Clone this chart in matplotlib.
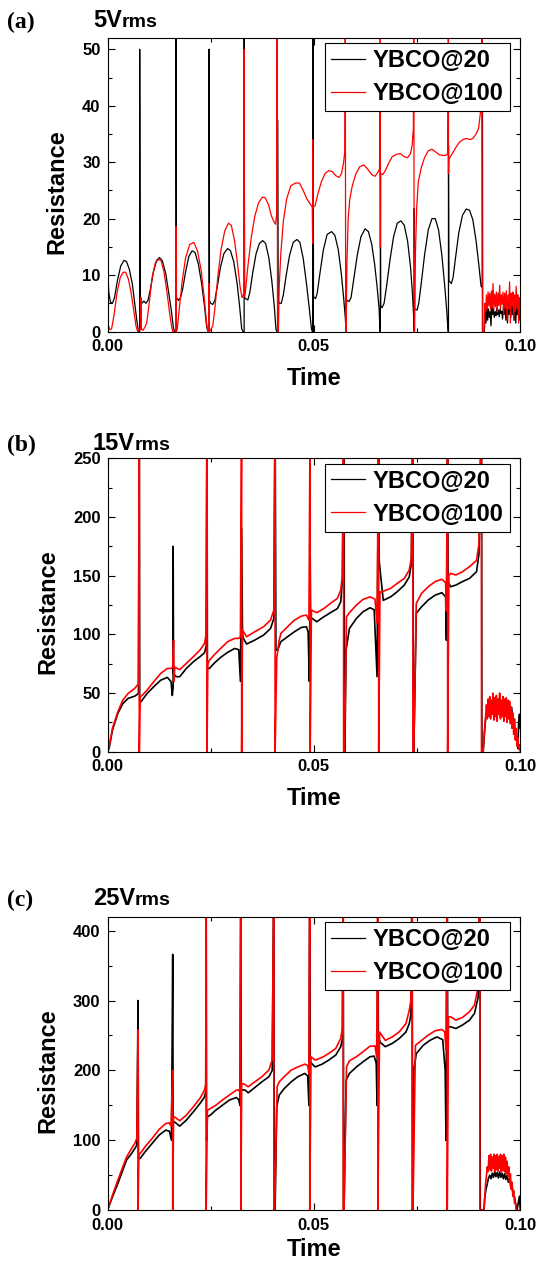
import matplotlib
matplotlib.use("Agg")
import matplotlib.pyplot as plt
from matplotlib.ticker import MultipleLocator, FormatStrFormatter

# ---------------- data (time [s], resistance) ----------------
# Panel (a) 5 Vrms
A_20 = [
    (0.0000, 12.0), (0.0003, 7.0), (0.0007, 5.2), (0.0012, 5.0), (0.0017, 6.0), (0.0024, 9.0), (0.0032, 11.6),
    (0.0040, 12.6), (0.0046, 12.4), (0.0053, 11.0), (0.0060, 8.5), (0.0066, 5.0), (0.0071, 2.0), (0.0075, 0.0),
    (0.0078, 0.0), (0.0078, 50.0), (0.0079, 5.5),
    (0.0083, 5.0), (0.0088, 5.4), (0.0093, 5.0), (0.0098, 5.5), (0.0104, 7.5), (0.0111, 10.5), (0.0119, 12.6),
    (0.0126, 13.1), (0.0133, 12.5), (0.0141, 10.3), (0.0148, 7.0), (0.0155, 3.5), (0.0160, 0.5), (0.0163, 0.0),
    (0.0166, 0.0), (0.0166, 60.0), (0.0167, 6.0),
    (0.0172, 5.5), (0.0177, 6.0), (0.0182, 7.5), (0.0189, 10.5), (0.0197, 13.3), (0.0205, 14.3), (0.0212, 14.0),
    (0.0220, 12.0), (0.0228, 8.5), (0.0235, 4.5), (0.0240, 1.0), (0.0243, 0.0), (0.0246, 0.0), (0.0246, 50.0), (0.0247, 5.5),
    (0.0250, 5.0), (0.0255, 4.8), (0.0260, 5.5), (0.0266, 8.0), (0.0274, 11.5), (0.0282, 13.8), (0.0291, 14.7),
    (0.0298, 14.3), (0.0306, 12.3), (0.0314, 8.5), (0.0320, 4.5), (0.0325, 0.5), (0.0328, 0.0), (0.0331, 0.0),
    (0.0331, 60.0), (0.0332, 6.0),
    (0.0335, 5.8), (0.0340, 5.6), (0.0345, 7.0), (0.0352, 10.5), (0.0360, 13.8), (0.0368, 15.6), (0.0376, 16.1),
    (0.0383, 15.6), (0.0391, 13.0), (0.0398, 9.0), (0.0404, 4.5), (0.0408, 0.5), (0.0410, 0.0), (0.0412, 0.0),
    (0.0412, 37.5), (0.0413, 5.5),
    (0.0416, 5.0), (0.0421, 5.0), (0.0426, 6.5), (0.0433, 10.0), (0.0441, 13.5), (0.0450, 15.8), (0.0459, 16.3),
    (0.0466, 15.8), (0.0474, 13.0), (0.0482, 8.5), (0.0489, 4.0), (0.0494, 0.5), (0.0496, 0.0), (0.0497, 0.0),
    (0.0497, 60.0), (0.0498, 0.0), (0.0498, 60.0), (0.0499, 6.2),
    (0.0504, 5.8), (0.0508, 6.8), (0.0515, 10.5), (0.0523, 14.5), (0.0532, 17.2), (0.0543, 17.7), (0.0551, 17.0),
    (0.0559, 14.5), (0.0566, 10.5), (0.0572, 6.0), (0.0576, 2.5), (0.0578, 0.0), (0.0579, 5.6),
    (0.0585, 5.3), (0.0590, 6.0), (0.0597, 9.5), (0.0605, 13.5), (0.0614, 16.8), (0.0624, 18.2), (0.0632, 17.7),
    (0.0640, 15.5), (0.0647, 12.0), (0.0653, 8.0), (0.0658, 4.0), (0.0660, 0.0), (0.0661, 0.0), (0.0661, 30.0), (0.0662, 4.5),
    (0.0665, 4.2), (0.0670, 5.0), (0.0676, 8.0), (0.0684, 12.5), (0.0693, 16.8), (0.0702, 19.2), (0.0711, 19.6),
    (0.0719, 18.8), (0.0727, 16.0), (0.0734, 11.5), (0.0739, 6.5), (0.0742, 2.0), (0.0743, 0.0), (0.0743, 21.8), (0.0744, 4.0),
    (0.0750, 3.8), (0.0754, 5.0), (0.0760, 8.5), (0.0768, 13.5), (0.0777, 18.0), (0.0786, 20.0), (0.0794, 20.0),
    (0.0802, 18.0), (0.0810, 13.5), (0.0817, 8.0), (0.0822, 3.5), (0.0825, 0.0), (0.0826, 0.0), (0.0826, 33.0), (0.0827, 9.0),
    (0.0833, 8.5), (0.0837, 9.5), (0.0843, 13.0), (0.0851, 17.5), (0.0860, 20.6), (0.0869, 21.7), (0.0877, 21.5),
    (0.0885, 19.8), (0.0893, 16.0), (0.0900, 11.5), (0.0905, 8.0), (0.0908, 7.8), (0.0908, 60.0), (0.0909, 0.0),
    (0.0913, 0.0), (0.0915, 4.0), (0.0917, 1.5), (0.0919, 4.5), (0.0921, 2.0), (0.0923, 4.0), (0.0925, 2.5),
    (0.0927, 3.5), (0.0929, 1.0), (0.0931, 4.5), (0.0933, 3.0), (0.0935, 4.0), (0.0937, 2.5), (0.0939, 3.5),
    (0.0941, 2.8), (0.0943, 4.2), (0.0945, 3.0), (0.0947, 3.8), (0.0949, 2.6), (0.0951, 4.0), (0.0953, 3.2),
    (0.0955, 3.6), (0.0957, 2.2), (0.0959, 4.4), (0.0961, 3.0), (0.0963, 5.0), (0.0965, 2.0), (0.0967, 4.0),
    (0.0969, 1.5), (0.0971, 5.5), (0.0973, 3.0), (0.0975, 4.5), (0.0977, 2.5), (0.0979, 6.0), (0.0981, 3.0),
    (0.0983, 5.0), (0.0985, 2.0), (0.0987, 4.5), (0.0989, 1.5), (0.0991, 5.0), (0.0993, 3.0), (0.0995, 4.0),
    (0.0997, 2.0), (0.0999, 3.5),
]
A_100 = [
    (0.0000, 0.0), (0.0001, 31.0), (0.0002, 1.0), (0.0006, 0.3), (0.0010, 0.5), (0.0016, 3.0), (0.0023, 6.8),
    (0.0031, 9.6), (0.0038, 10.5), (0.0044, 10.5), (0.0051, 9.2), (0.0058, 6.5), (0.0064, 3.5), (0.0069, 1.0),
    (0.0073, 0.0), (0.0078, 0.5), (0.0081, 0.3), (0.0081, 6.0), (0.0082, 0.5), (0.0086, 0.2), (0.0091, 0.8),
    (0.0095, 1.5), (0.0101, 5.0), (0.0108, 9.5), (0.0116, 12.2), (0.0124, 12.8), (0.0130, 12.5), (0.0137, 10.5),
    (0.0144, 7.0), (0.0150, 3.5), (0.0155, 1.0), (0.0158, 0.0), (0.0166, 0.0), (0.0166, 18.6), (0.0167, 0.0), (0.0169, 0.5),
    (0.0174, 4.0), (0.0181, 9.0), (0.0189, 13.0), (0.0199, 15.4), (0.0209, 15.8), (0.0218, 14.3), (0.0227, 10.8),
    (0.0235, 5.5), (0.0240, 1.5), (0.0243, 0.0), (0.0246, 0.0), (0.0246, 8.5), (0.0247, 0.0),
    (0.0250, 0.3), (0.0255, 1.0), (0.0260, 4.0), (0.0267, 9.5), (0.0275, 14.5), (0.0284, 17.8), (0.0293, 19.2),
    (0.0300, 18.8), (0.0308, 16.0), (0.0315, 12.0), (0.0321, 8.0), (0.0326, 6.0), (0.0329, 6.5), (0.0331, 6.3),
    (0.0331, 50.0), (0.0332, 6.3),
    (0.0334, 7.0), (0.0340, 11.5), (0.0348, 16.5), (0.0357, 20.5), (0.0366, 22.8), (0.0375, 23.8), (0.0382, 23.7),
    (0.0390, 22.5), (0.0397, 20.5), (0.0403, 19.5), (0.0407, 19.0), (0.0410, 21.0), (0.0411, 60.0), (0.0412, 0.0),
    (0.0414, 0.0), (0.0416, 8.0), (0.0420, 14.0), (0.0426, 19.5), (0.0434, 23.5), (0.0444, 25.8), (0.0455, 26.3),
    (0.0465, 26.3), (0.0474, 25.0), (0.0483, 23.5), (0.0492, 22.5), (0.0496, 22.0), (0.0497, 15.6), (0.0497, 34.0), (0.0498, 22.0),
    (0.0503, 22.3), (0.0510, 24.5), (0.0518, 26.5), (0.0527, 28.0), (0.0536, 28.5), (0.0545, 28.3), (0.0553, 27.6),
    (0.0561, 27.3), (0.0567, 28.0), (0.0572, 30.0), (0.0575, 32.0), (0.0576, 60.0), (0.0577, 0.0),
    (0.0578, 0.0), (0.0580, 12.0), (0.0583, 20.0), (0.0587, 23.5), (0.0593, 25.8), (0.0601, 27.8), (0.0611, 29.2),
    (0.0621, 29.5), (0.0630, 28.8), (0.0640, 27.8), (0.0648, 27.5), (0.0655, 28.2), (0.0659, 28.8), (0.0661, 60.0),
    (0.0661, 15.0), (0.0662, 28.0),
    (0.0667, 27.8), (0.0673, 28.5), (0.0681, 29.8), (0.0690, 31.0), (0.0700, 31.4), (0.0710, 31.5), (0.0718, 31.0),
    (0.0727, 30.8), (0.0734, 31.5), (0.0738, 33.0), (0.0741, 36.0), (0.0742, 60.0), (0.0743, 0.0),
    (0.0744, 0.0), (0.0746, 14.0), (0.0749, 22.0), (0.0753, 26.5), (0.0760, 29.0), (0.0768, 30.8), (0.0777, 32.0),
    (0.0786, 32.3), (0.0795, 31.8), (0.0804, 31.3), (0.0812, 31.2), (0.0819, 31.2), (0.0824, 31.5), (0.0826, 60.0),
    (0.0826, 28.0), (0.0827, 30.5),
    (0.0835, 31.5), (0.0843, 32.5), (0.0852, 33.5), (0.0861, 34.0), (0.0870, 34.2), (0.0878, 34.0), (0.0885, 34.2),
    (0.0893, 35.0), (0.0899, 36.0), (0.0903, 38.5), (0.0906, 42.0), (0.0907, 60.0), (0.0908, 0.0),
    (0.0912, 0.0), (0.0914, 5.0), (0.0916, 3.5), (0.0918, 6.5), (0.0920, 4.0), (0.0922, 7.0), (0.0924, 4.5),
    (0.0926, 6.8), (0.0928, 3.8), (0.0930, 7.2), (0.0932, 4.2), (0.0934, 8.5), (0.0936, 4.0), (0.0938, 6.6),
    (0.0940, 4.4), (0.0942, 7.0), (0.0944, 3.5), (0.0946, 6.8), (0.0948, 4.6), (0.0950, 8.2), (0.0952, 4.0),
    (0.0954, 6.5), (0.0956, 4.8), (0.0958, 7.0), (0.0960, 3.0), (0.0962, 6.8), (0.0964, 4.2), (0.0966, 7.2),
    (0.0968, 2.0), (0.0970, 6.5), (0.0972, 4.0), (0.0974, 8.8), (0.0976, 1.5), (0.0978, 6.8), (0.0980, 4.5),
    (0.0982, 7.0), (0.0984, 2.0), (0.0986, 6.5), (0.0988, 3.5), (0.0990, 8.0), (0.0992, 4.0), (0.0994, 6.5),
    (0.0996, 1.5), (0.0998, 6.0), (0.1000, 3.0),
]

# Panel (b) 15 Vrms
B_20 = [
    (0.0000, 0.0), (0.0001, 12.0), (0.0002, 2.0), (0.0004, 3.0), (0.0012, 18.5), (0.0025, 32.7), (0.0037, 41.0),
    (0.0050, 45.5), (0.0066, 47.4), (0.0075, 49.7), (0.0077, 300.0), (0.0078, 42.6),
    (0.0081, 42.6), (0.0096, 49.7), (0.0112, 55.4), (0.0129, 61.0), (0.0145, 63.4), (0.0154, 59.7), (0.0157, 48.0),
    (0.0159, 55.0), (0.0159, 175.0), (0.0160, 66.8),
    (0.0166, 64.0), (0.0175, 64.0), (0.0191, 71.0), (0.0208, 76.7), (0.0224, 81.0), (0.0235, 84.4), (0.0239, 90.0),
    (0.0241, 300.0), (0.0242, 71.0),
    (0.0247, 71.0), (0.0258, 75.3), (0.0274, 80.4), (0.0291, 84.7), (0.0308, 88.0), (0.0318, 87.0), (0.0322, 60.0),
    (0.0325, 190.0), (0.0327, 100.0),
    (0.0330, 96.0), (0.0337, 91.8), (0.0357, 95.2), (0.0378, 99.4), (0.0395, 105.0), (0.0403, 113.6), (0.0406, 300.0),
    (0.0408, 86.6),
    (0.0412, 86.6), (0.0420, 93.8), (0.0436, 98.0), (0.0453, 102.3), (0.0470, 106.0), (0.0482, 106.5), (0.0486, 102.0),
    (0.0489, 60.0), (0.0491, 166.0), (0.0492, 113.6),
    (0.0496, 113.6), (0.0507, 110.8), (0.0524, 115.0), (0.0540, 118.5), (0.0557, 122.0), (0.0565, 127.8), (0.0569, 146.0),
    (0.0573, 300.0), (0.0574, 0.0),
    (0.0575, 0.0), (0.0578, 86.6), (0.0586, 105.0), (0.0603, 113.6), (0.0619, 119.3), (0.0636, 122.7), (0.0646, 121.0),
    (0.0653, 64.0), (0.0657, 300.0), (0.0658, 163.0),
    (0.0668, 129.0), (0.0686, 132.0), (0.0702, 136.4), (0.0719, 142.0), (0.0731, 149.0), (0.0736, 160.0), (0.0740, 300.0),
    (0.0741, 0.0),
    (0.0742, 0.0), (0.0748, 118.0), (0.0761, 123.6), (0.0777, 129.3), (0.0794, 133.5), (0.0810, 135.5), (0.0819, 132.0),
    (0.0821, 95.0), (0.0824, 300.0), (0.0825, 145.0),
    (0.0831, 140.6), (0.0844, 142.0), (0.0860, 145.0), (0.0877, 147.7), (0.0894, 153.4), (0.0900, 169.0), (0.0906, 300.0),
    (0.0907, 0.0),
    (0.0910, 0.0), (0.0913, 15.0), (0.0916, 28.0), (0.0919, 35.0), (0.0922, 30.0), (0.0925, 40.0), (0.0928, 33.0),
    (0.0931, 42.0), (0.0934, 35.0), (0.0937, 44.0), (0.0940, 32.0), (0.0943, 43.0), (0.0946, 36.0), (0.0949, 45.0),
    (0.0952, 30.0), (0.0955, 42.0), (0.0958, 34.0), (0.0961, 44.0), (0.0964, 31.0), (0.0967, 42.0), (0.0970, 35.0),
    (0.0973, 43.0), (0.0976, 30.0), (0.0979, 38.0), (0.0982, 25.0), (0.0985, 28.0), (0.0988, 15.0), (0.0991, 12.0),
    (0.0994, 3.0), (0.0996, 25.0), (0.0998, 32.0), (0.1000, 20.0),
]
B_100 = [
    (0.0000, 0.0), (0.0001, 150.0), (0.0002, 2.0), (0.0006, 8.0), (0.0012, 20.0), (0.0025, 34.0), (0.0037, 44.0),
    (0.0050, 49.7), (0.0066, 54.0), (0.0075, 58.0), (0.0077, 300.0), (0.0077, 0.0), (0.0079, 47.0),
    (0.0081, 47.0), (0.0096, 52.6), (0.0112, 59.7), (0.0129, 66.8), (0.0145, 71.0), (0.0154, 71.0), (0.0158, 72.0),
    (0.0160, 95.0), (0.0161, 60.0), (0.0163, 72.0),
    (0.0175, 70.0), (0.0191, 75.3), (0.0208, 81.0), (0.0224, 86.6), (0.0235, 92.3), (0.0239, 100.0), (0.0241, 300.0),
    (0.0241, 0.0), (0.0243, 75.0),
    (0.0247, 78.0), (0.0258, 82.4), (0.0274, 88.0), (0.0291, 93.8), (0.0308, 96.6), (0.0318, 96.6), (0.0322, 98.0),
    (0.0325, 300.0), (0.0325, 0.0), (0.0327, 103.7),
    (0.0337, 98.0), (0.0357, 102.3), (0.0378, 106.5), (0.0395, 112.2), (0.0403, 120.7), (0.0406, 300.0), (0.0406, 0.0),
    (0.0410, 80.0),
    (0.0416, 95.0), (0.0420, 100.8), (0.0436, 106.5), (0.0453, 112.2), (0.0470, 115.6), (0.0482, 116.5), (0.0488, 112.0),
    (0.0491, 300.0), (0.0491, 0.0), (0.0494, 120.7),
    (0.0507, 118.5), (0.0524, 122.0), (0.0540, 126.4), (0.0557, 130.7), (0.0565, 137.8), (0.0569, 150.0), (0.0572, 300.0),
    (0.0572, 0.0), (0.0574, 0.0), (0.0579, 115.0),
    (0.0586, 118.5), (0.0603, 125.0), (0.0619, 129.8), (0.0636, 132.0), (0.0648, 130.0), (0.0653, 110.0), (0.0657, 300.0),
    (0.0657, 0.0), (0.0660, 136.0),
    (0.0665, 136.4), (0.0686, 139.2), (0.0702, 143.5), (0.0719, 147.7), (0.0731, 154.8), (0.0736, 165.0), (0.0740, 300.0),
    (0.0740, 0.0), (0.0742, 0.0), (0.0748, 126.4),
    (0.0761, 135.0), (0.0777, 140.6), (0.0794, 145.0), (0.0810, 147.0), (0.0819, 144.0), (0.0821, 120.0), (0.0824, 300.0),
    (0.0824, 0.0), (0.0827, 150.0),
    (0.0831, 152.0), (0.0844, 150.6), (0.0860, 153.4), (0.0877, 157.7), (0.0894, 163.0), (0.0900, 177.5), (0.0906, 300.0),
    (0.0906, 0.0),
    (0.0910, 0.0), (0.0912, 12.0), (0.0914, 22.0), (0.0916, 30.0), (0.0918, 40.0), (0.0920, 28.0), (0.0922, 45.0),
    (0.0924, 30.0), (0.0926, 47.0), (0.0928, 28.0), (0.0930, 44.0), (0.0932, 32.0), (0.0934, 50.0), (0.0936, 27.0),
    (0.0938, 46.0), (0.0940, 30.0), (0.0942, 48.0), (0.0944, 26.0), (0.0946, 45.0), (0.0948, 32.0), (0.0950, 50.0),
    (0.0952, 28.0), (0.0954, 44.0), (0.0956, 30.0), (0.0958, 47.0), (0.0960, 26.0), (0.0962, 45.0), (0.0964, 30.0),
    (0.0966, 46.0), (0.0968, 25.0), (0.0970, 44.0), (0.0972, 28.0), (0.0974, 43.0), (0.0976, 24.0), (0.0978, 38.0),
    (0.0980, 20.0), (0.0982, 33.0), (0.0984, 15.0), (0.0986, 28.0), (0.0988, 10.0), (0.0990, 20.0), (0.0992, 5.0),
    (0.0994, 12.0), (0.0996, 2.0), (0.0998, 6.0), (0.1000, 0.0),
]

# Panel (c) 25 Vrms
C_20 = [
    (0.0000, 0.0), (0.0012, 19.0), (0.0025, 38.0), (0.0037, 57.0), (0.0046, 71.6), (0.0058, 81.0), (0.0066, 88.0),
    (0.0071, 93.0), (0.0074, 300.0), (0.0075, 74.0),
    (0.0079, 74.0), (0.0091, 83.5), (0.0108, 95.5), (0.0125, 107.4), (0.0141, 114.6), (0.0150, 113.0), (0.0155, 100.0),
    (0.0158, 366.0), (0.0159, 126.5),
    (0.0162, 126.5), (0.0175, 120.3), (0.0191, 128.9), (0.0208, 140.8), (0.0224, 152.7), (0.0235, 162.0), (0.0238, 170.0),
    (0.0239, 500.0), (0.0240, 100.0),
    (0.0242, 133.6), (0.0249, 136.0), (0.0262, 143.0), (0.0278, 150.0), (0.0295, 157.5), (0.0312, 161.3), (0.0318, 158.0),
    (0.0321, 150.0), (0.0323, 500.0), (0.0324, 172.0),
    (0.0333, 172.0), (0.0341, 168.0), (0.0357, 175.7), (0.0374, 183.7), (0.0391, 191.0), (0.0399, 200.0), (0.0403, 500.0),
    (0.0404, 0.0),
    (0.0406, 0.0), (0.0410, 148.0), (0.0416, 164.7), (0.0428, 174.0), (0.0445, 183.7), (0.0461, 191.0), (0.0478, 195.7),
    (0.0485, 192.0), (0.0488, 150.0), (0.0490, 500.0), (0.0491, 212.0),
    (0.0503, 205.0), (0.0520, 209.0), (0.0536, 214.8), (0.0553, 222.0), (0.0565, 234.0), (0.0569, 245.0), (0.0571, 500.0),
    (0.0572, 0.0),
    (0.0573, 0.0), (0.0578, 186.0), (0.0586, 195.7), (0.0603, 205.0), (0.0619, 212.4), (0.0636, 219.6), (0.0646, 220.5),
    (0.0651, 210.0), (0.0653, 150.0), (0.0655, 500.0), (0.0656, 248.0),
    (0.0661, 240.0), (0.0673, 234.0), (0.0690, 238.7), (0.0707, 245.8), (0.0723, 255.0), (0.0731, 267.0), (0.0735, 280.0),
    (0.0738, 500.0), (0.0739, 0.0),
    (0.0740, 0.0), (0.0742, 200.0), (0.0748, 224.0), (0.0765, 236.0), (0.0781, 243.0), (0.0798, 248.0), (0.0812, 244.0),
    (0.0818, 200.0), (0.0820, 100.0), (0.0823, 500.0), (0.0824, 262.0),
    (0.0831, 262.5), (0.0844, 260.0), (0.0860, 265.0), (0.0877, 272.0), (0.0889, 281.6), (0.0898, 305.0), (0.0902, 500.0),
    (0.0903, 0.0),
    (0.0912, 0.0), (0.0914, 19.0), (0.0917, 30.0), (0.0920, 38.0), (0.0923, 46.0), (0.0926, 50.0), (0.0929, 45.0),
    (0.0932, 53.0), (0.0935, 47.0), (0.0938, 55.0), (0.0941, 48.0), (0.0944, 54.0), (0.0947, 46.0), (0.0950, 55.0),
    (0.0953, 47.0), (0.0956, 53.0), (0.0959, 45.0), (0.0962, 52.0), (0.0965, 44.0), (0.0968, 50.0), (0.0971, 40.0),
    (0.0974, 45.0), (0.0977, 33.0), (0.0980, 35.0), (0.0983, 20.0), (0.0986, 19.0), (0.0989, 8.0), (0.0992, 0.0),
    (0.0995, 10.0), (0.0998, 20.0), (0.1000, 0.0),
]
C_100 = [
    (0.0000, 0.0), (0.0012, 21.5), (0.0025, 43.0), (0.0037, 62.0), (0.0046, 76.0), (0.0058, 88.0), (0.0066, 95.5),
    (0.0071, 102.6), (0.0074, 258.0), (0.0074, 0.0), (0.0076, 81.0),
    (0.0079, 81.0), (0.0091, 90.7), (0.0108, 102.6), (0.0125, 115.5), (0.0141, 124.0), (0.0150, 125.0), (0.0154, 120.0),
    (0.0158, 200.0), (0.0158, 0.0), (0.0160, 133.6),
    (0.0162, 133.6), (0.0175, 128.0), (0.0191, 136.0), (0.0208, 148.0), (0.0224, 160.0), (0.0235, 172.0), (0.0238, 180.0),
    (0.0239, 500.0), (0.0239, 0.0), (0.0242, 143.0),
    (0.0262, 150.0), (0.0278, 157.5), (0.0295, 164.7), (0.0312, 171.8), (0.0318, 172.0), (0.0321, 168.0), (0.0323, 500.0),
    (0.0323, 0.0), (0.0325, 181.0),
    (0.0330, 181.0), (0.0341, 176.6), (0.0357, 183.7), (0.0374, 191.0), (0.0391, 200.5), (0.0399, 215.0), (0.0403, 500.0),
    (0.0403, 0.0), (0.0405, 0.0), (0.0411, 176.6),
    (0.0416, 183.7), (0.0428, 191.0), (0.0445, 200.5), (0.0461, 205.0), (0.0478, 209.0), (0.0485, 207.0), (0.0488, 195.0),
    (0.0490, 500.0), (0.0490, 0.0), (0.0493, 219.6),
    (0.0503, 214.8), (0.0520, 218.6), (0.0536, 224.3), (0.0553, 231.5), (0.0565, 245.8), (0.0569, 260.0), (0.0571, 500.0),
    (0.0571, 0.0), (0.0573, 0.0), (0.0579, 205.0),
    (0.0586, 213.8), (0.0603, 219.6), (0.0619, 226.7), (0.0636, 234.8), (0.0648, 235.0), (0.0652, 220.0), (0.0655, 500.0),
    (0.0655, 0.0), (0.0659, 255.0),
    (0.0673, 243.0), (0.0690, 248.0), (0.0707, 255.4), (0.0723, 267.0), (0.0731, 286.0), (0.0735, 300.0), (0.0738, 500.0),
    (0.0738, 0.0), (0.0740, 0.0), (0.0746, 236.0),
    (0.0761, 243.0), (0.0777, 250.6), (0.0794, 256.8), (0.0810, 258.7), (0.0817, 255.0), (0.0820, 230.0), (0.0823, 500.0),
    (0.0823, 0.0), (0.0826, 276.8),
    (0.0831, 276.8), (0.0844, 272.0), (0.0860, 275.9), (0.0877, 284.0), (0.0889, 293.5), (0.0898, 320.0), (0.0902, 500.0),
    (0.0902, 0.0),
    (0.0912, 0.0), (0.0914, 20.0), (0.0916, 38.0), (0.0918, 50.0), (0.0920, 62.0), (0.0922, 55.0), (0.0924, 78.0),
    (0.0926, 58.0), (0.0928, 80.0), (0.0930, 56.0), (0.0932, 76.0), (0.0934, 60.0), (0.0936, 80.0), (0.0938, 55.0),
    (0.0940, 78.0), (0.0942, 58.0), (0.0944, 80.0), (0.0946, 56.0), (0.0948, 77.0), (0.0950, 60.0), (0.0952, 80.0),
    (0.0954, 55.0), (0.0956, 78.0), (0.0958, 57.0), (0.0960, 80.0), (0.0962, 55.0), (0.0964, 76.0), (0.0966, 52.0),
    (0.0968, 70.0), (0.0970, 48.0), (0.0972, 62.0), (0.0974, 40.0), (0.0976, 52.0), (0.0978, 30.0), (0.0980, 40.0),
    (0.0982, 20.0), (0.0984, 28.0), (0.0986, 10.0), (0.0988, 12.0), (0.0990, 0.0),
]

LABELS = ["YBCO@20", "YBCO@100"]
PANEL_LETTERS = ["(a)", "(b)", "(c)"]
VOLTAGES = ["5V", "15V", "25V"]
Y_MAX = [52, 250, 420]
Y_MAJOR = [10, 50, 100]
Y_MINOR = [5, 25, 50]

# ---------------- figure ----------------
W, H = 538, 1266
plt.rcParams['font.family'] = ['Liberation Sans', 'DejaVu Sans']
plt.rcParams['font.weight'] = 'bold'
plt.rcParams['axes.linewidth'] = 0.8

fig = plt.figure(figsize=(W / 100, H / 100), dpi=100)

ax_left, ax_right = 107.5, 520.3
ax_tops = [38.0, 458.3, 916.7]
ax_h = 293.5
title_base = [27, 450, 905]
time_base = [385, 805, 1256]
res_pos = [(57, 192), (48, 612), (48, 1071)]

panels = [(A_20, A_100), (B_20, B_100), (C_20, C_100)]
lw = [0.9, 1.2, 1.2]

for i, (s20, s100) in enumerate(panels):
    top = ax_tops[i]
    ax = fig.add_axes([ax_left / W, 1 - (top + ax_h) / H, (ax_right - ax_left) / W, ax_h / H])
    t20, r20 = zip(*s20)
    t100, r100 = zip(*s100)
    ax.plot(t20, r20, color='black', lw=lw[i], label=LABELS[0])
    ax.plot(t100, r100, color='#ff0000', lw=lw[i], label=LABELS[1])
    ax.set_xlim(0, 0.1)
    ax.set_ylim(0, Y_MAX[i])
    ax.xaxis.set_major_locator(MultipleLocator(0.05))
    ax.xaxis.set_minor_locator(MultipleLocator(0.025))
    ax.xaxis.set_major_formatter(FormatStrFormatter('%.2f'))
    ax.yaxis.set_major_locator(MultipleLocator(Y_MAJOR[i]))
    ax.yaxis.set_minor_locator(MultipleLocator(Y_MINOR[i]))
    ax.tick_params(which='both', direction='in', top=True, right=True, labelsize=12, width=0.8)
    ax.tick_params(which='major', length=5)
    ax.tick_params(which='minor', length=3)
    ax.tick_params(axis='y', pad=5)
    ax.tick_params(axis='x', pad=5.5)

    leg_right = (509.5 - ax_left) / (ax_right - ax_left)
    leg_top = (ax_h - 5.5) / ax_h
    leg = ax.legend(loc='upper right', bbox_to_anchor=(leg_right, leg_top), borderaxespad=0,
                    prop={'weight': 'bold', 'size': 17}, frameon=True, fancybox=False,
                    edgecolor='black', framealpha=1, borderpad=0.25, labelspacing=0.42,
                    handlelength=1.45, handletextpad=0.32)
    leg.get_frame().set_linewidth(0.8)
    for ln in leg.get_lines():
        ln.set_linewidth(0.9)

    fig.text(7 / W, 1 - (title_base[i] + 1) / H, PANEL_LETTERS[i], family='Liberation Serif',
             weight='bold', fontsize=17, va='baseline', ha='left')
    tv = fig.text(93 / W, 1 - title_base[i] / H, VOLTAGES[i], fontsize=17, weight='bold',
                  va='baseline', ha='left')
    renderer = fig.canvas.get_renderer()
    bb = tv.get_window_extent(renderer=renderer)
    fig.text(bb.x1 / W, 1 - title_base[i] / H, 'rms', fontsize=14, weight='bold', va='baseline', ha='left')

    fig.text((ax_left + ax_right) / 2 / W, 1 - time_base[i] / H, 'Time', fontsize=17, weight='bold',
             ha='center', va='baseline')
    fig.text(res_pos[i][0] / W, 1 - res_pos[i][1] / H, 'Resistance', fontsize=17, weight='bold',
             rotation=90, ha='center', va='center')

fig.savefig('out.png', dpi=100)
